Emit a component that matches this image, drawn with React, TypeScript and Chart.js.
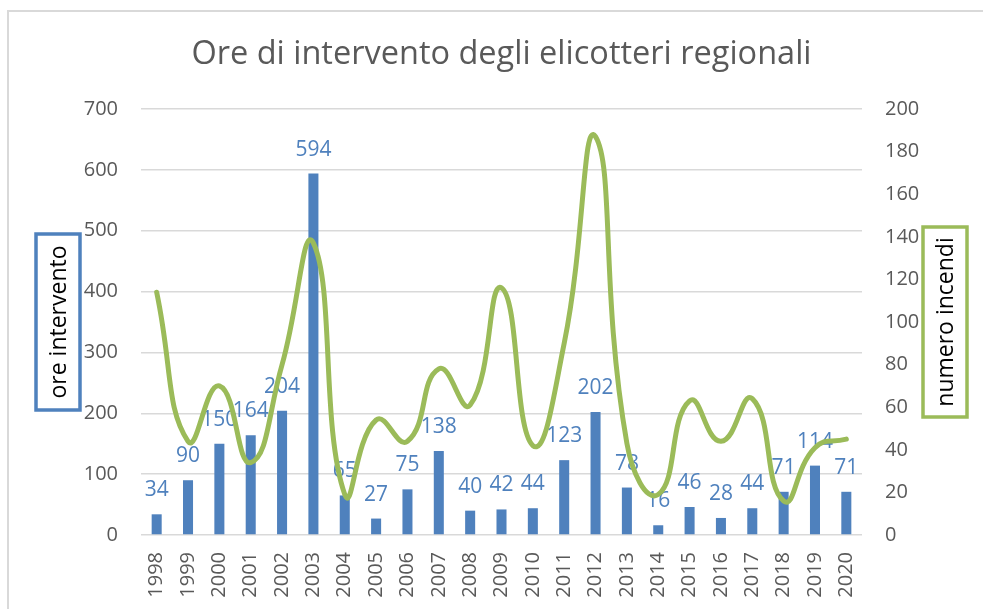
import React, { useEffect, useRef } from "react";
import { Chart, registerables } from "chart.js";

Chart.register(...registerables);

const TITLE = "Ore di intervento degli elicotteri regionali";
const LEFT_TITLE = "ore intervento";
const RIGHT_TITLE = "numero incendi";

const years = [
  "1998", "1999", "2000", "2001", "2002", "2003", "2004", "2005", "2006", "2007", "2008", "2009",
  "2010", "2011", "2012", "2013", "2014", "2015", "2016", "2017", "2018", "2019", "2020",
];
const oreIntervento = [34, 90, 150, 164, 204, 594, 65, 27, 75, 138, 40, 42, 44, 123, 202, 78, 16, 46, 28, 44, 71, 114, 71];
const numeroIncendi = [114, 44, 70, 34, 80, 137, 19, 54, 44, 78, 61, 116, 42, 90, 187, 43, 19, 63, 44, 64, 16, 41, 45];

const FONT = '"Open Sans", "Noto Sans", sans-serif';
const GREY = "#595959";
const BLUE = "#4f81bd";
const GREEN = "#9bbb59";

export default function App() {
  const ref = useRef<HTMLCanvasElement>(null);

  useEffect(() => {
    if (!ref.current) return;

    const barLabels = {
      id: "barLabels",
      afterDatasetDraw(chart: any, args: any) {
        if (args.index !== 0) return;
        const ctx = chart.ctx;
        ctx.save();
        ctx.font = `21px ${FONT}`;
        ctx.fillStyle = BLUE;
        ctx.textAlign = "center";
        ctx.textBaseline = "alphabetic";
        args.meta.data.forEach((el: any, i: number) => {
          ctx.fillText(String(oreIntervento[i]), el.x, el.y - 18);
        });
        ctx.restore();
      },
    };

    const deco = {
      id: "deco",
      afterDraw(chart: any) {
        const ctx = chart.ctx;
        const a = chart.chartArea;
        ctx.save();
        ctx.font = `32.5px ${FONT}`;
        ctx.fillStyle = GREY;
        ctx.textAlign = "center";
        ctx.textBaseline = "middle";
        ctx.fillText(TITLE, (a.left + a.right) / 2, 55);

        const box = (cx: number, cy: number, w: number, h: number, color: string, text: string) => {
          ctx.fillStyle = "#ffffff";
          ctx.fillRect(cx - w / 2, cy - h / 2, w, h);
          ctx.strokeStyle = color;
          ctx.lineWidth = 3.5;
          ctx.strokeRect(cx - w / 2, cy - h / 2, w, h);
          ctx.save();
          ctx.translate(cx, cy);
          ctx.rotate(-Math.PI / 2);
          ctx.font = `23px ${FONT}`;
          ctx.fillStyle = "#000000";
          ctx.textAlign = "center";
          ctx.textBaseline = "middle";
          ctx.fillText(text, 0, 1);
          ctx.restore();
        };
        box(a.left - 83, 322, 44, 176, BLUE, LEFT_TITLE);
        box(a.right + 83, 322, 44, 190, GREEN, RIGHT_TITLE);
        ctx.restore();
      },
    };

    const zeroPad = (s: any) => {
      s.paddingTop = 0;
      s.paddingBottom = 0;
      s.paddingLeft = 0;
      s.paddingRight = 0;
    };

    const chart = new Chart(ref.current, {
      type: "bar",
      data: {
        labels: years,
        datasets: [
          {
            type: "bar",
            label: LEFT_TITLE,
            data: oreIntervento,
            yAxisID: "y",
            backgroundColor: BLUE,
            barPercentage: 0.32,
            categoryPercentage: 1,
            order: 1,
          },
          {
            type: "line",
            label: RIGHT_TITLE,
            data: numeroIncendi,
            yAxisID: "y1",
            borderColor: GREEN,
            borderWidth: 5,
            tension: 0.5,
            pointRadius: 0,
            borderCapStyle: "round",
            borderJoinStyle: "round",
            order: 0,
          } as any,
        ],
      },
      options: {
        responsive: false,
        animation: false,
        layout: { padding: { top: 109, left: 0, right: 0, bottom: 0 } },
        plugins: {
          legend: { display: false },
          tooltip: { enabled: false },
          title: { display: false },
        },
        scales: {
          x: {
            grid: { display: false, drawTicks: false },
            border: { display: false },
            ticks: {
              autoSkip: false,
              minRotation: 90,
              maxRotation: 90,
              padding: 17,
              color: GREY,
              font: { family: FONT, size: 20 },
            },
            afterFit(s: any) {
              s.height = 74;
              zeroPad(s);
            },
          },
          y: {
            position: "left",
            min: 0,
            max: 700,
            ticks: { stepSize: 100, padding: 23, color: GREY, font: { family: FONT, size: 20 } },
            grid: { color: "#d9d9d9", lineWidth: 1.5, drawTicks: false },
            border: { display: false },
            afterFit(s: any) {
              s.width = 141;
              zeroPad(s);
            },
          },
          y1: {
            position: "right",
            min: 0,
            max: 200,
            ticks: { stepSize: 20, padding: 23, color: GREY, font: { family: FONT, size: 20 } },
            grid: { drawOnChartArea: false, drawTicks: false },
            border: { display: false },
            afterFit(s: any) {
              s.width = 121;
              zeroPad(s);
            },
          },
        },
      },
      plugins: [barLabels, deco],
    } as any);

    return () => chart.destroy();
  }, []);

  return (
    <>
      <div
        style={{
          position: "fixed",
          left: 7,
          top: 10,
          width: 1100,
          height: 700,
          border: "2px solid #d9d9d9",
          background: "#ffffff",
        }}
      />
      <canvas
        ref={ref}
        width={983}
        height={609}
        style={{ position: "fixed", left: 0, top: 0, width: 983, height: 609 }}
      />
    </>
  );
}
